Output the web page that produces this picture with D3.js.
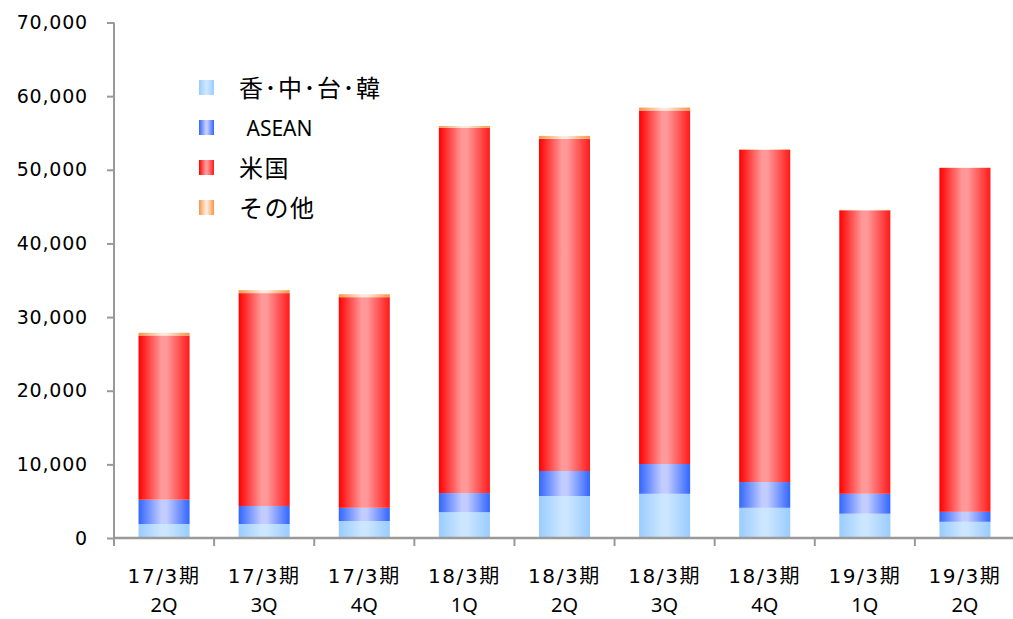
<!DOCTYPE html>
<html><head><meta charset="utf-8">
<script src="https://cdn.jsdelivr.net/npm/d3@7"></script>
<style>
html,body{margin:0;padding:0;background:#fff;}
svg{display:block;font-family:"Noto Sans CJK JP","Noto Sans",sans-serif;}
</style></head>
<body><svg id="c" width="1013" height="619"></svg>
<script>
const categories = ["17/3期\n2Q","17/3期\n3Q","17/3期\n4Q","18/3期\n1Q","18/3期\n2Q","18/3期\n3Q","18/3期\n4Q","19/3期\n1Q","19/3期\n2Q"];
const seriesNames = ["香･中･台･韓"," ASEAN","米国","その他"];
const hkChinaTaiwanKorea = [1900, 1900, 2300, 3500, 5700, 6000, 4100, 3300, 2200];
const asean = [3300, 2450, 1800, 2600, 3400, 4050, 3500, 2700, 1350];
const usa = [22300, 28900, 28600, 49600, 45100, 48000, 45100, 38500, 46700];
const others = [370, 400, 400, 250, 400, 400, 100, 50, 50];
const yTicks = [0,10000,20000,30000,40000,50000,60000,70000];

const gradStops = [
  ["gHK", "#99ccff", "#cce6ff", "#99ccff"],
  ["gAS", "#3366ff", "#c2ccff", "#3366ff"],
  ["gUS", "#ff0000", "#ff9999", "#ff1a1a"],
  ["gOT", "#f79646", "#fde9d9", "#f79646"]
];

const svg = d3.select("#c");
const defs = svg.append("defs");
gradStops.forEach(([id,a,b,c])=>{
  const g = defs.append("linearGradient").attr("id",id).attr("x1","0").attr("x2","1").attr("y1","0").attr("y2","0");
  g.append("stop").attr("offset","0").attr("stop-color",a);
  g.append("stop").attr("offset","0.45").attr("stop-color",b);
  g.append("stop").attr("offset","0.55").attr("stop-color",b);
  g.append("stop").attr("offset","1").attr("stop-color",c);
});

const x0 = 114, x1 = 1015, yb = 538, yt = 22.5;
const x = d3.scaleBand().domain(categories).range([x0,x1]).paddingInner(0.49).paddingOuter(0.245);
const y = d3.scaleLinear().domain([0,70000]).range([yb,yt]);

const data = categories.map((c,i)=>({cat:c, s0:hkChinaTaiwanKorea[i], s1:asean[i], s2:usa[i], s3:others[i]}));
const stack = d3.stack().keys(["s0","s1","s2","s3"])(data);
const fills = ["url(#gHK)","url(#gAS)","url(#gUS)","url(#gOT)"];

stack.forEach((layer,k)=>{
  svg.append("g").selectAll("rect").data(layer).join("rect")
    .attr("x",d=>x(d.data.cat))
    .attr("width",x.bandwidth())
    .attr("y",d=>y(d[1]))
    .attr("height",d=>y(d[0])-y(d[1]))
    .attr("fill",fills[k]);
});

// Y axis
const yAxis = svg.append("g").attr("transform",`translate(${x0},0)`)
  .call(d3.axisLeft(y).tickValues(yTicks).tickSize(7).tickPadding(19).tickFormat(d3.format(",")));
yAxis.select(".domain").attr("stroke","#999").attr("stroke-width",2).attr("d",`M0,${yt}V${yb}`);
yAxis.selectAll(".tick line").attr("stroke","#999").attr("stroke-width",2);
yAxis.selectAll(".tick text").attr("font-size",19).attr("fill","#000")
  .style("font-family","'DejaVu Sans',sans-serif").style("letter-spacing","0.8px");

// X axis
const xAxisG = svg.append("g").attr("transform",`translate(0,${yb})`);
xAxisG.append("line").attr("x1",x0).attr("x2",x1).attr("y1",0).attr("y2",0).attr("stroke","#999").attr("stroke-width",2.5);
const bounds = d3.range(categories.length+1).map(i=>x0 + i*(x1-x0)/categories.length);
xAxisG.selectAll("line.tk").data(bounds).join("line").attr("class","tk")
  .attr("x1",d=>d).attr("x2",d=>d).attr("y1",0).attr("y2",8).attr("stroke","#999").attr("stroke-width",2);
const xl = xAxisG.selectAll("text").data(categories).join("text")
  .attr("text-anchor","middle").attr("font-size",20).attr("fill","#000")
  .attr("transform",d=>`translate(${x(d)+x.bandwidth()/2},0)`);
xl.each(function(d){
  const t = d3.select(this);
  const lines = d.split("\n");
  t.append("tspan").attr("x",0).attr("y",45).text(lines[0])
    .style("font-family","'DejaVu Sans','Noto Sans CJK JP',sans-serif").style("letter-spacing","1.6px");
  t.append("tspan").attr("x",0).attr("y",74).text(lines[1])
    .style("font-family","'Noto Sans',sans-serif").attr("font-size",20);
});

// Legend
const lg = svg.append("g");
seriesNames.forEach((n,i)=>{
  const yy = 80 + i*40;
  lg.append("rect").attr("x",199).attr("y",yy).attr("width",15).attr("height",15).attr("fill",fills[i]);
  const isLatin = /^[\sA-Z]+$/.test(n);
  lg.append("text").attr("x",isLatin?241:239).attr("y",isLatin?yy+15.5:yy+16.5)
    .attr("font-size",isLatin?21:24).attr("fill","#000")
    .style("font-family",isLatin?"'Noto Sans',sans-serif":"'Noto Sans CJK JP',sans-serif")
    .style("letter-spacing",isLatin?"0px":"1.5px")
    .attr("xml:space","preserve").style("white-space","pre").text(n);
});
</script></body></html>
